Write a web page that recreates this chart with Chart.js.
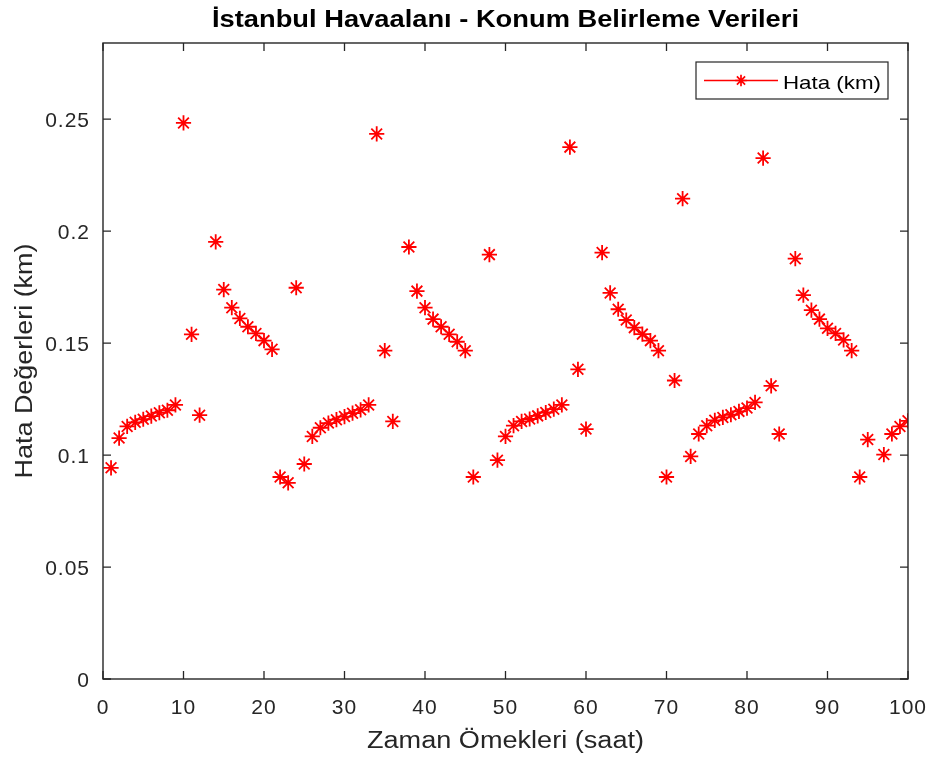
<!DOCTYPE html>
<html>
<head>
<meta charset="utf-8">
<script src="https://cdn.jsdelivr.net/npm/chart.js@4.4.1/dist/chart.umd.min.js"></script>
<style>
  html, body { margin: 0; padding: 0; background: #ffffff; }
  #wrap { width: 933px; height: 763px; }
</style>
</head>
<body>
<div id="wrap"><canvas id="c" width="933" height="763"></canvas></div>
<script>
// ---- data ----
const titleText = "İstanbul Havaalanı - Konum Belirleme Verileri";
const xAxisTitle = "Zaman Ömekleri (saat)";
const yAxisTitle = "Hata Değerleri (km)";
const seriesLabel = "Hata (km)";

const sampleIndex = Array.from({ length: 100 }, (_, i) => i + 1);
const errorKm = [
  0.0943, 0.1076, 0.1128, 0.1146, 0.1160, 0.1174, 0.1189, 0.1200, 0.1224, 0.2483,
  0.1539, 0.1178, null,   0.1952, 0.1739, 0.1658, 0.1610, 0.1573, 0.1543, 0.1511,
  0.1472, 0.0902, 0.0876, 0.1747, 0.0960, 0.1083, 0.1122, 0.1143, 0.1158, 0.1172,
  0.1187, 0.1202, 0.1224, 0.2434, 0.1466, 0.1150, null,   0.1929, 0.1732, 0.1658,
  0.1607, 0.1573, 0.1539, 0.1506, 0.1466, 0.0902, null,   0.1895, 0.0977, 0.1083,
  0.1131, 0.1150, 0.1161, 0.1175, 0.1190, 0.1205, 0.1224, 0.2375, 0.1383, 0.1116,
  null,   0.1904, 0.1724, 0.1651, 0.1603, 0.1569, 0.1540, 0.1511, 0.1466, 0.0902,
  0.1333, 0.2145, 0.0994, 0.1094, 0.1131, 0.1155, 0.1168, 0.1180, 0.1195, 0.1210,
  0.1235, 0.2326, 0.1309, 0.1094, null,   0.1877, 0.1714, 0.1647, 0.1607, 0.1566,
  0.1543, 0.1514, 0.1466, 0.0902, 0.1069, null,   0.1002, 0.1094, 0.1128, 0.1153
];

const xTickValues = [0, 10, 20, 30, 40, 50, 60, 70, 80, 90, 100];
const xTickLabels = ["0", "10", "20", "30", "40", "50", "60", "70", "80", "90", "100"];
const yTickValues = [0, 0.05, 0.1, 0.15, 0.2, 0.25];
const yTickLabels = ["0", "0.05", "0.1", "0.15", "0.2", "0.25"];

// ---- styling ----
const FONT = "'Liberation Sans', Arial, Helvetica, sans-serif";
const AXIS_COLOR = "#262626";
const RED = "#ff0000";

// draws text starting at x (left), baseline y, horizontally fitted to targetW
function drawFittedText(ctx, text, font, x, y, targetW, color) {
  ctx.save();
  try { ctx.letterSpacing = "0px"; } catch (e) {}
  ctx.font = font;
  const w = ctx.measureText(text).width;
  const sx = targetW / w;
  ctx.fillStyle = color;
  ctx.textAlign = "left";
  ctx.textBaseline = "alphabetic";
  ctx.translate(x, y);
  ctx.scale(sx, 1);
  ctx.fillText(text, 0, 0);
  ctx.restore();
}

const decorPlugin = {
  id: "decor",
  beforeDraw(chart) {
    const ctx = chart.ctx;
    ctx.save();
    ctx.fillStyle = "#ffffff";
    ctx.fillRect(0, 0, chart.width, chart.height);
    ctx.restore();
    try { ctx.letterSpacing = "1px"; } catch (e) {}
  },
  afterDraw(chart) {
    const ctx = chart.ctx;
    const a = chart.chartArea;
    const xs = chart.scales.x, ys = chart.scales.y;
    try { ctx.letterSpacing = "0px"; } catch (e) {}

    // axes box
    ctx.save();
    ctx.strokeStyle = AXIS_COLOR;
    ctx.lineWidth = 1.4;
    ctx.strokeRect(a.left, a.top, a.right - a.left, a.bottom - a.top);
    // inward ticks
    const tl = 8;
    ctx.lineWidth = 1.3;
    ctx.beginPath();
    xTickValues.forEach(v => {
      const px = xs.getPixelForValue(v);
      ctx.moveTo(px, a.bottom); ctx.lineTo(px, a.bottom - tl);
      ctx.moveTo(px, a.top); ctx.lineTo(px, a.top + tl);
    });
    yTickValues.forEach(v => {
      const py = ys.getPixelForValue(v);
      ctx.moveTo(a.left, py); ctx.lineTo(a.left + tl, py);
      ctx.moveTo(a.right, py); ctx.lineTo(a.right - tl, py);
    });
    ctx.stroke();
    ctx.restore();

    const cx = (a.left + a.right) / 2;
    // title
    const tW = 587;
    drawFittedText(ctx, titleText, "bold 23px " + FONT, cx - tW / 2, 27, tW, "#000000");

    // x axis title
    const lFont = "23px " + FONT;
    const xW = 277;
    drawFittedText(ctx, xAxisTitle, lFont, cx - xW / 2, 748, xW, AXIS_COLOR);

    // y axis title
    const yW = 235;
    const cy = (a.top + a.bottom) / 2;
    ctx.save();
    ctx.translate(31.5, cy);
    ctx.rotate(-Math.PI / 2);
    drawFittedText(ctx, yAxisTitle, lFont, -yW / 2, 0, yW, AXIS_COLOR);
    ctx.restore();

    // legend
    const lx = 696, ly = 62, lw = 192, lh = 37;
    const my = ly + lh / 2;
    ctx.save();
    ctx.fillStyle = "#ffffff";
    ctx.fillRect(lx, ly, lw, lh);
    ctx.strokeStyle = AXIS_COLOR;
    ctx.lineWidth = 1.2;
    ctx.strokeRect(lx, ly, lw, lh);
    ctx.strokeStyle = RED;
    ctx.fillStyle = RED;
    ctx.lineWidth = 1.3;
    ctx.beginPath();
    ctx.moveTo(704, my); ctx.lineTo(778, my);
    ctx.stroke();
    ctx.lineWidth = 1.7;
    Chart.helpers.drawPoint(ctx, { pointStyle: "star", radius: 5.8, borderWidth: 1.7, rotation: 0 }, 741, my);
    ctx.restore();
    drawFittedText(ctx, seriesLabel, "19px " + FONT, 783, 89, 98, "#000000");
  }
};

const points = sampleIndex.map((x, i) => ({ x: x, y: errorKm[i] }));

new Chart(document.getElementById("c"), {
  type: "scatter",
  data: {
    datasets: [{
      label: seriesLabel,
      data: points,
      showLine: false,
      pointStyle: "star",
      pointRadius: 7.6,
      pointHoverRadius: 7.6,
      borderColor: RED,
      backgroundColor: RED,
      pointBorderWidth: 1.8,
      borderWidth: 1.8
    }]
  },
  options: {
    responsive: false,
    animation: false,
    devicePixelRatio: 1,
    layout: { padding: { top: 43, right: 25, left: 0, bottom: 0 } },
    plugins: {
      legend: { display: false },
      title: { display: false },
      tooltip: { enabled: false }
    },
    scales: {
      x: {
        type: "linear",
        position: "bottom",
        min: 0, max: 100,
        afterBuildTicks(scale) { scale.ticks = xTickValues.map(v => ({ value: v })); },
        afterFit(scale) {
          scale.height = 84;
          scale.paddingLeft = 0; scale.paddingRight = 0;
          scale.paddingTop = 0; scale.paddingBottom = 0;
        },
        grid: { display: false, drawTicks: false },
        border: { display: false },
        ticks: {
          callback: (v, i) => xTickLabels[i],
          font: { family: FONT, size: 21 },
          color: AXIS_COLOR,
          padding: 17,
          maxRotation: 0,
          autoSkip: false
        }
      },
      y: {
        type: "linear",
        min: 0, max: 0.284,
        afterBuildTicks(scale) { scale.ticks = yTickValues.map(v => ({ value: v })); },
        afterFit(scale) {
          scale.width = 103;
          scale.paddingLeft = 0; scale.paddingRight = 0;
          scale.paddingTop = 0; scale.paddingBottom = 0;
        },
        grid: { display: false, drawTicks: false },
        border: { display: false },
        ticks: {
          callback: (v, i) => yTickLabels[i],
          font: { family: FONT, size: 21 },
          color: AXIS_COLOR,
          padding: 13,
          labelOffset: 2,
          autoSkip: false
        }
      }
    }
  },
  plugins: [decorPlugin]
});
</script>
</body>
</html>
